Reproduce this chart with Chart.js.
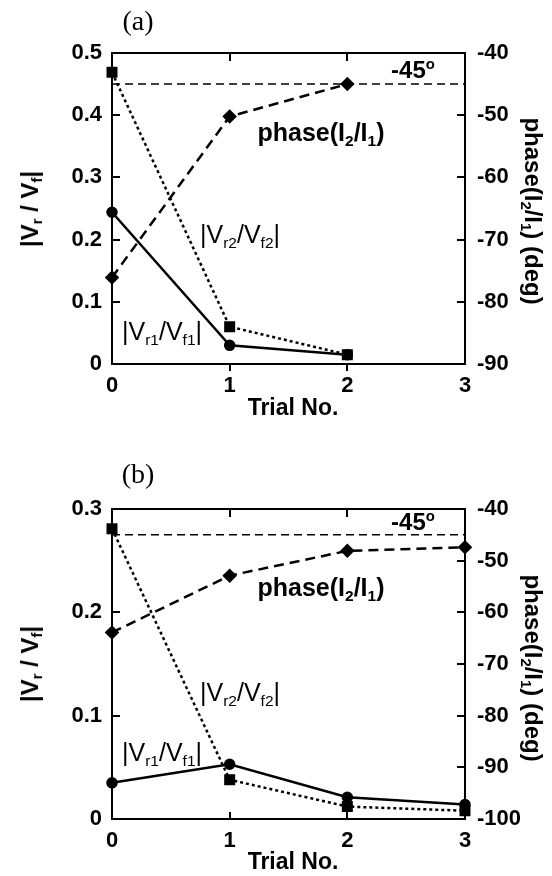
<!DOCTYPE html>
<html>
<head>
<meta charset="utf-8">
<script src="https://cdn.jsdelivr.net/npm/chart.js@4/dist/chart.umd.min.js"></script>
<style>
  html, body { margin: 0; padding: 0; background: #fff; }
  #page { position: relative; width: 552px; height: 876px; overflow: hidden; }
  canvas { position: absolute; left: 0; }
  .lbl { position: absolute; transform: translate(-50%, -50%); white-space: nowrap;
         font-family: "Liberation Sans", Arial, sans-serif; line-height: 1; color: #000; }
  .b { font-weight: bold; }
  .serif { font-family: "Liberation Serif", "Times New Roman", serif; }
  .rl { transform: translate(-50%, -50%) rotate(-90deg); }
  .rr { transform: translate(-50%, -50%) rotate(90deg); }
  sub { font-size: 0.62em; vertical-align: baseline; position: relative; top: 0.3em; line-height: 0; }
  sup { font-size: 0.62em; vertical-align: baseline; position: relative; top: -0.6em; line-height: 0; }
</style>
</head>
<body>
<div id="page">
  <canvas id="chartA" width="552" height="430" style="top:0"></canvas>
  <canvas id="chartB" width="552" height="446" style="top:430px"></canvas>

  <div class="lbl serif" style="left:138px; top:21px; font-size:28px">(a)</div>
  <div class="lbl b" style="left:413px; top:70px; font-size:24px">-45<sup>o</sup></div>
  <div class="lbl b" style="left:321px; top:132px; font-size:25px">phase(I<sub>2</sub>/I<sub>1</sub>)</div>
  <div class="lbl" style="left:240px; top:234px; font-size:25px">|V<sub>r2</sub>/V<sub>f2</sub>|</div>
  <div class="lbl" style="left:162px; top:331px; font-size:25px">|V<sub>r1</sub>/V<sub>f1</sub>|</div>
  <div class="lbl b rl" style="left:30px; top:209px; font-size:24px">|V<sub>r</sub> / V<sub>f</sub>|</div>
  <div class="lbl b rr" style="left:533px; top:211px; font-size:24px">phase(I<sub>2</sub>/I<sub>1</sub>) (deg)</div>
  <div class="lbl b" style="left:293px; top:407px; font-size:23px">Trial No.</div>

  <div class="lbl serif" style="left:138px; top:474px; font-size:28px">(b)</div>
  <div class="lbl b" style="left:413px; top:522px; font-size:24px">-45<sup>o</sup></div>
  <div class="lbl b" style="left:321px; top:587px; font-size:25px">phase(I<sub>2</sub>/I<sub>1</sub>)</div>
  <div class="lbl" style="left:240px; top:692px; font-size:25px">|V<sub>r2</sub>/V<sub>f2</sub>|</div>
  <div class="lbl" style="left:162px; top:752px; font-size:25px">|V<sub>r1</sub>/V<sub>f1</sub>|</div>
  <div class="lbl b rl" style="left:30px; top:664px; font-size:24px">|V<sub>r</sub> / V<sub>f</sub>|</div>
  <div class="lbl b rr" style="left:533px; top:668px; font-size:24px">phase(I<sub>2</sub>/I<sub>1</sub>) (deg)</div>
  <div class="lbl b" style="left:293px; top:861px; font-size:23px">Trial No.</div>
</div>

<script>
// data
const trials = [0, 1, 2, 3];

const vr1A = [0.244, 0.030, 0.015];
const vr2A = [0.469, 0.060, 0.015];
const phaseA = [-76.1, -50.2, -45.0];

const vr1B = [0.035, 0.053, 0.021, 0.014];
const vr2B = [0.281, 0.038, 0.012, 0.008];
const phaseB = [-63.9, -52.9, -48.1, -47.4];

const refPhase = -45;

const xTicks = [0, 1, 2, 3];
const leftTicksA = [0, 0.1, 0.2, 0.3, 0.4, 0.5];
const rightTicksA = [-90, -80, -70, -60, -50, -40];
const leftTicksB = [0, 0.1, 0.2, 0.3];
const rightTicksB = [-100, -90, -80, -70, -60, -50, -40];

Chart.defaults.font.family = '"Liberation Sans", Arial, sans-serif';
Chart.defaults.color = '#000';

const pts = (vals) => vals.map((v, i) => ({ x: trials[i], y: v }));

// box round the plot area, with the small inward ticks
const frame = {
  id: 'frame',
  beforeDatasetsDraw(chart, args, opts) {
    const { ctx, chartArea: a, scales } = chart;
    ctx.save();
    ctx.strokeStyle = '#000';
    ctx.lineWidth = 2;
    ctx.strokeRect(a.left, a.top, a.right - a.left, a.bottom - a.top);
    ctx.beginPath();
    scales.x.ticks.forEach(t => {
      const px = Math.round(scales.x.getPixelForValue(t.value));
      if (px <= a.left + 1 || px >= a.right - 1) return;
      ctx.moveTo(px, a.top); ctx.lineTo(px, a.top + 8);
      ctx.moveTo(px, a.bottom); ctx.lineTo(px, a.bottom + opts.bottomTick);
    });
    scales.y.ticks.forEach(t => {
      const py = Math.round(scales.y.getPixelForValue(t.value));
      ctx.moveTo(a.left, py); ctx.lineTo(a.left + 8, py);
    });
    scales.y2.ticks.forEach(t => {
      const py = Math.round(scales.y2.getPixelForValue(t.value));
      ctx.moveTo(a.right, py); ctx.lineTo(a.right - 8, py);
    });
    ctx.stroke();
    ctx.restore();
  }
};

function makeChart(id, cfg) {
  const tickFont = { size: 22, weight: 'bold' };
  new Chart(document.getElementById(id), {
    type: 'line',
    data: {
      datasets: [
        {
          data: pts(cfg.vr1), yAxisID: 'y',
          borderColor: '#000', backgroundColor: '#000', borderWidth: 2.5,
          pointStyle: 'circle', pointRadius: 4.5, clip: false
        },
        {
          data: pts(cfg.vr2), yAxisID: 'y',
          borderColor: '#000', backgroundColor: '#000', borderWidth: 2.5, borderDash: [3, 3],
          pointStyle: 'rect', pointRadius: 6, clip: false
        },
        {
          data: pts(cfg.phase), yAxisID: 'y2',
          borderColor: '#000', backgroundColor: '#000', borderWidth: 2.5, borderDash: [10, 6],
          pointStyle: 'rectRot', pointRadius: 5.5, clip: false
        },
        {
          data: [{ x: 0, y: refPhase }, { x: 3, y: refPhase }], yAxisID: 'y2',
          borderColor: '#000', borderWidth: 1.5, borderDash: [8, 5], pointRadius: 0
        }
      ]
    },
    options: {
      responsive: false,
      animation: false,
      layout: { padding: { top: cfg.top, left: 0, right: 0, bottom: 0 } },
      plugins: { legend: { display: false }, tooltip: { enabled: false }, frame: { bottomTick: cfg.bottomTick } },
      scales: {
        x: {
          type: 'linear', min: 0, max: 3,
          grid: { display: false, drawTicks: false }, border: { display: false },
          afterBuildTicks: s => { s.ticks = xTicks.map(v => ({ value: v })); },
          ticks: { font: tickFont, padding: 9, maxRotation: 0 },
          afterFit: s => { s.height = cfg.xh; }
        },
        y: {
          position: 'left', min: 0, max: cfg.left[cfg.left.length - 1],
          grid: { display: false, drawTicks: false }, border: { display: false },
          afterBuildTicks: s => { s.ticks = cfg.left.map(v => ({ value: v })); },
          ticks: { font: tickFont, padding: 10, callback: v => v === 0 ? '0' : v.toFixed(1) },
          afterFit: s => { s.width = 112; }
        },
        y2: {
          position: 'right', min: cfg.right[0], max: cfg.right[cfg.right.length - 1],
          grid: { display: false, drawTicks: false }, border: { display: false },
          afterBuildTicks: s => { s.ticks = cfg.right.map(v => ({ value: v })); },
          ticks: { font: tickFont, padding: 12, callback: v => String(v) },
          afterFit: s => { s.width = 87; }
        }
      }
    },
    plugins: [frame]
  });
}

makeChart('chartA', { vr1: vr1A, vr2: vr2A, phase: phaseA, left: leftTicksA, right: rightTicksA,
                      top: 53, xh: 66, bottomTick: 7 });
makeChart('chartB', { vr1: vr1B, vr2: vr2B, phase: phaseB, left: leftTicksB, right: rightTicksB,
                      top: 79, xh: 57, bottomTick: -7 });
</script>
</body>
</html>
